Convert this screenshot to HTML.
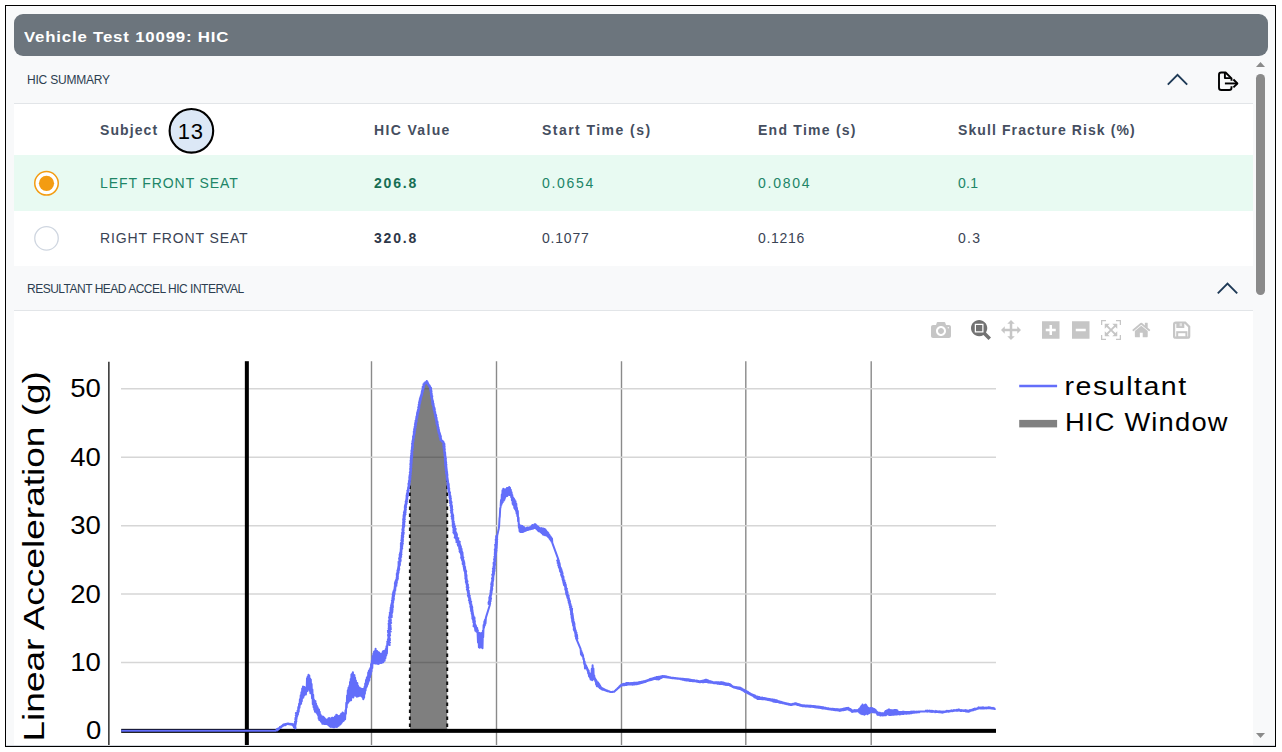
<!DOCTYPE html>
<html><head><meta charset="utf-8">
<style>
html,body{margin:0;padding:0;background:#fff;width:1282px;height:752px;overflow:hidden;font-family:"Liberation Sans",sans-serif;position:relative;}
.a{position:absolute;}
#frame{position:absolute;left:5px;top:5px;width:1269px;height:740px;border:1px solid #000;background:#f8f9fa;}
#hdr{position:absolute;left:14px;top:14px;width:1254px;height:42px;background:#6c757d;border-radius:9px;}
.t{position:absolute;white-space:nowrap;line-height:1;}
.sectitle{font-size:12px;color:#2c3e50;}
.sep{position:absolute;left:14px;width:1239px;height:1px;background:#e2e5e8;}
.th{font-size:14px;font-weight:bold;color:#454e60;letter-spacing:0.6px;}
.td{font-size:14px;color:#3a4354;letter-spacing:0.8px;}
</style></head>
<body>
<div id="frame"></div>
<div id="hdr"></div>
<div class="t" style="left:24px;top:29px;color:#fff;font-weight:bold;font-size:15px;letter-spacing:0.73px;transform:scaleX(1.12);transform-origin:0 0;">Vehicle Test 10099: HIC</div>
<div class="t sectitle" style="left:27px;top:74px;letter-spacing:-0.2px;">HIC SUMMARY</div>
<div class="sep" style="top:103px;"></div>
<div class="a" style="left:14px;top:104px;width:1239px;height:51px;background:#fff;"></div>
<div class="a" style="left:14px;top:155px;width:1239px;height:56px;background:#e8faf2;"></div>
<div class="a" style="left:14px;top:211px;width:1239px;height:55px;background:#fff;"></div>
<div class="t sectitle" style="left:27px;top:283px;letter-spacing:-0.5px;">RESULTANT HEAD ACCEL HIC INTERVAL</div>
<div class="sep" style="top:310px;"></div>
<div class="a" style="left:14px;top:311px;width:1239px;height:434px;background:#fff;"></div>
<div class="a" style="left:6px;top:745px;width:1269px;height:1px;background:#d3d8de;"></div>
<div class="t th" style="left:100px;top:123px;letter-spacing:1.1px;">Subject</div>
<div class="t th" style="left:374px;top:123px;letter-spacing:1.35px;">HIC Value</div>
<div class="t th" style="left:542px;top:123px;letter-spacing:1.45px;">Start Time (s)</div>
<div class="t th" style="left:758px;top:123px;letter-spacing:1.25px;">End Time (s)</div>
<div class="t th" style="left:958px;top:123px;letter-spacing:1.1px;">Skull Fracture Risk (%)</div>
<svg class="a" style="left:160px;top:100px;" width="64" height="64" viewBox="160 100 64 64"><circle cx="191.4" cy="130.8" r="21.8" fill="#dce8f6" stroke="#000" stroke-width="2.1"/></svg>
<div class="t" style="left:177.8px;top:120.5px;font-size:22px;color:#000;letter-spacing:0.6px;">13</div>
<div class="t td" style="left:100px;top:176px;color:#208567;letter-spacing:0.9px;">LEFT FRONT SEAT</div>
<div class="t td" style="left:374px;top:176px;color:#166e54;font-weight:bold;letter-spacing:1.8px;">206.8</div>
<div class="t td" style="left:542px;top:176px;color:#208567;letter-spacing:1.7px;">0.0654</div>
<div class="t td" style="left:758px;top:176px;color:#208567;letter-spacing:1.75px;">0.0804</div>
<div class="t td" style="left:958px;top:176px;color:#208567;letter-spacing:0.3px;">0.1</div>
<div class="t td" style="left:100px;top:231px;letter-spacing:0.87px;">RIGHT FRONT SEAT</div>
<div class="t td" style="left:374px;top:231px;color:#2d3748;font-weight:bold;letter-spacing:1.8px;">320.8</div>
<div class="t td" style="left:542px;top:231px;letter-spacing:0.8px;">0.1077</div>
<div class="t td" style="left:758px;top:231px;letter-spacing:0.7px;">0.1216</div>
<div class="t td" style="left:958px;top:231px;letter-spacing:1.3px;">0.3</div>
<svg class="a" style="left:0;top:0;" width="1282" height="752" viewBox="0 0 1282 752">
<polyline points="1167.8,84.6 1177.5,74.9 1187.2,84.6" fill="none" stroke="#1e3a56" stroke-width="1.9"/>
<polyline points="1217.8,293.3 1227.5,283.6 1237.2,293.3" fill="none" stroke="#1e3a56" stroke-width="1.9"/>
<g fill="none" stroke="#000" stroke-width="1.9" stroke-linejoin="round">
<path d="M1231.5,80.8 V78.4 L1225.6,72.5 H1221.3 Q1219,72.5 1219,74.8 V87.7 Q1219,90 1221.3,90 H1229.2 Q1231.5,90 1231.5,87.7 V86.2"/>
<path d="M1224.9,72.8 V78.1 H1230.8"/>
<path d="M1224.9,83.45 H1237.2"/>
<path d="M1233.4,79.5 L1237.4,83.45 L1233.4,87.4"/>
</g>
<circle cx="46.5" cy="183.3" r="11.75" fill="#fff" stroke="#f39c12" stroke-width="1.5"/>
<circle cx="46.5" cy="183.3" r="7.6" fill="#f39c12"/>
<circle cx="46.5" cy="238.3" r="11.75" fill="#fff" stroke="#cfd6e0" stroke-width="1.3"/>
<!-- scrollbar -->
<path d="M1256,67 L1260.5,62 L1265,67 Z" fill="#8a8a8a"/>
<path d="M1256,733 L1260.5,738 L1265,733 Z" fill="#8a8a8a"/>
<rect x="1256" y="74" width="9" height="221" rx="4.5" fill="#8a8a8a"/>
</svg>
<svg class="a" style="left:931px;top:319.8px;" width="20" height="20" viewBox="0 0 1000 1000"><path fill="#c6c6c6" fill-rule="evenodd" transform="matrix(1 0 0 -1 0 850)" d="m500 450c-83 0-150-67-150-150 0-83 67-150 150-150 83 0 150 67 150 150 0 83-67 150-150 150z m400 150h-120c-16 0-34 13-39 29l-31 93c-6 15-23 28-40 28h-340c-16 0-34-13-39-28l-31-94c-6-15-23-28-40-28h-120c-55 0-100-45-100-100v-450c0-55 45-100 100-100h800c55 0 100 45 100 100v450c0 55-45 100-100 100z m-400-550c-138 0-250 112-250 250 0 138 112 250 250 250 138 0 250-112 250-250 0-138-112-250-250-250z m365 380c-19 0-35 16-35 35 0 19 16 35 35 35 19 0 35-16 35-35 0-19-16-35-35-35z"/></svg>
<svg class="a" style="left:971.2px;top:320px;" width="20" height="20" viewBox="0 0 1000 1000"><path fill="#727272" fill-rule="evenodd" transform="matrix(1 0 0 -1 0 850)" d="m1000-25l-250 251c40 63 63 138 63 218 0 224-182 406-407 406-224 0-406-182-406-406s183-406 407-406c80 0 155 22 218 62l250-250 125 125z m-812 250l0 438 437 0 0-438-437 0z m62 375l313 0 0-312-313 0 0 312z"/></svg>
<svg class="a" style="left:1001px;top:320px;" width="20" height="20" viewBox="0 0 1000 1000"><path fill="#c6c6c6" transform="matrix(1 0 0 -1 0 850)" d="m1000 350l-187 188 0-125-250 0 0 250 125 0-188 187-187-187 125 0 0-250-250 0 0 125-188-188 186-187 0 125 252 0 0-250-125 0 187-188 188 188-125 0 0 250 250 0 0-126 187 188z"/></svg>
<svg class="a" style="left:1042.3px;top:320px;" width="17.5" height="20" viewBox="0 0 875 1000"><path fill="#c6c6c6" fill-rule="evenodd" transform="matrix(1 0 0 -1 0 850)" d="m1 787l0-875 875 0 0 875-875 0z m687-500l-187 0 0-187-125 0 0 187-188 0 0 125 188 0 0 187 125 0 0-187 187 0 0-125z"/></svg>
<svg class="a" style="left:1072.4px;top:320px;" width="17.5" height="20" viewBox="0 0 875 1000"><path fill="#c6c6c6" fill-rule="evenodd" transform="matrix(1 0 0 -1 0 850)" d="m0 788l0-876 875 0 0 876-875 0z m688-500l-500 0 0 125 500 0 0-125z"/></svg>
<svg class="a" style="left:1101.2px;top:320px;" width="20" height="20" viewBox="0 0 1000 1000"><path fill="#c6c6c6" transform="matrix(1 0 0 -1 0 850)" d="m250 850l-187 0-63 0 0-62 0-188 63 0 0 188 187 0 0 62z m688 0l-188 0 0-62 188 0 0-188 62 0 0 188 0 62-62 0z m-875-938l0 188-63 0 0-188 0-62 63 0 187 0 0 62-187 0z m875 188l0-188-188 0 0-62 188 0 62 0 0 62 0 188-62 0z m-125 188l-1 0-93-94-156 156 156 156 92-93 2 0 0 250-250 0 0-2 93-92-156-156-156 156 94 92 0 2-250 0 0-250 0 0 93 93 157-156-157-156-93 94 0 0 0-250 250 0 0 0-94 93 156 157 156-157-93-93 0 0 250 0 0 250z"/></svg>
<svg class="a" style="left:1132px;top:320px;" width="18.57" height="20" viewBox="0 0 928.6 1000"><path fill="#c6c6c6" transform="matrix(1 0 0 -1 0 850)" d="m786 296v-267q0-15-11-26t-25-10h-214v214h-143v-214h-214q-15 0-25 10t-11 26v267q0 1 0 2t0 2l321 264 321-264q1-1 1-4z m124 39l-34-41q-5-5-12-6h-2q-7 0-12 3l-386 322-386-322q-7-4-13-4-7 2-12 7l-35 41q-4 5-3 13t6 12l401 334q18 15 42 15t43-15l136-114v109q0 8 5 13t13 5h107q8 0 13-5t5-13v-227l122-102q5-5 6-12t-4-13z"/></svg>
<svg class="a" style="left:0;top:0;" width="1282" height="752" viewBox="0 0 1282 752">
<path d="M1175.8,322.7 H1185.2 L1189.2,326.7 V336.2 Q1189.2,337.7 1187.7,337.7 H1175.6 Q1174.1,337.7 1174.1,336.2 V324.4 Q1174.1,322.7 1175.8,322.7 Z" fill="none" stroke="#c6c6c6" stroke-width="2.2"/>
<rect x="1176.3" y="322.6" width="8" height="5.4" fill="#c6c6c6"/>
<rect x="1179.6" y="323.2" width="2.4" height="3" fill="#e4e4e4"/>
<rect x="1177.2" y="332.2" width="9.2" height="5.2" fill="none" stroke="#c6c6c6" stroke-width="2"/>
</svg>

<svg class="a" style="left:0;top:0;" width="1282" height="752" viewBox="0 0 1282 752">
<defs><clipPath id="cp"><rect x="14" y="311" width="1239" height="434"/></clipPath></defs>
<g clip-path="url(#cp)">
<g stroke="#8a8a8a" stroke-width="1.4">
<line x1="371.5" y1="361.2" x2="371.5" y2="745"/>
<line x1="496.5" y1="361.2" x2="496.5" y2="745"/>
<line x1="621.5" y1="361.2" x2="621.5" y2="745"/>
<line x1="745.8" y1="361.2" x2="745.8" y2="745"/>
<line x1="871.2" y1="361.2" x2="871.2" y2="745"/>
</g>
<g stroke="#d6d6d6" stroke-width="1.5">
<line x1="121" y1="662.45" x2="996" y2="662.45"/>
<line x1="121" y1="594.05" x2="996" y2="594.05"/>
<line x1="121" y1="525.65" x2="996" y2="525.65"/>
<line x1="121" y1="457.25" x2="996" y2="457.25"/>
<line x1="121" y1="388.85" x2="996" y2="388.85"/>
</g>
<line x1="108.85" y1="361.7" x2="108.85" y2="745" stroke="#3a3a3a" stroke-width="1.6"/>
<rect x="244.85" y="361.2" width="4" height="384" fill="#000"/>
<rect x="121.2" y="728.85" width="874.8" height="4" fill="#000"/>
<path d="M409.9,730.9 409.9,478.6 412.6,443.1 415.9,421.9 419.9,401.9 423.9,384.6 426.3,381.3 428.5,384.6 430.3,387.3 432.5,401.9 435.2,413.9 438.5,429.8 441.2,440.5 443.6,442.5 447.2,478.6 447.2,730.9Z" fill="rgba(0,0,0,0.5)" stroke="none"/>
<line x1="409.9" y1="478.6" x2="409.9" y2="730.8" stroke="#111" stroke-width="2" stroke-dasharray="3.5,3.5"/>
<line x1="447.2" y1="478.6" x2="447.2" y2="730.8" stroke="#111" stroke-width="2" stroke-dasharray="3.5,3.5"/>
<path d="M121.2,730.8 121.8,730.8 122.4,730.8 123.0,730.8 123.6,730.8 124.2,730.8 124.8,730.8 125.4,730.8 126.0,730.8 126.6,730.8 127.2,730.8 127.8,730.8 128.4,730.8 129.0,730.8 129.6,730.8 130.2,730.8 130.8,730.8 131.4,730.8 132.0,730.8 132.6,730.8 133.2,730.8 133.8,730.8 134.4,730.8 135.0,730.8 135.6,730.8 136.2,730.8 136.8,730.8 137.4,730.8 138.0,730.8 138.6,730.8 139.2,730.8 139.8,730.8 140.4,730.8 141.0,730.8 141.6,730.8 142.2,730.8 142.8,730.8 143.4,730.8 144.0,730.8 144.6,730.8 145.2,730.8 145.8,730.8 146.4,730.8 147.0,730.8 147.6,730.8 148.2,730.8 148.8,730.8 149.4,730.8 150.0,730.8 150.6,730.8 151.2,730.8 151.8,730.8 152.4,730.8 153.0,730.8 153.6,730.8 154.2,730.8 154.8,730.8 155.4,730.8 156.0,730.8 156.6,730.8 157.2,730.8 157.8,730.8 158.4,730.8 159.0,730.8 159.6,730.8 160.2,730.8 160.8,730.8 161.4,730.8 162.0,730.8 162.6,730.8 163.2,730.8 163.8,730.8 164.4,730.8 165.0,730.8 165.6,730.8 166.2,730.8 166.8,730.8 167.4,730.8 168.0,730.8 168.6,730.8 169.2,730.8 169.8,730.8 170.4,730.8 171.0,730.8 171.6,730.8 172.2,730.8 172.8,730.8 173.4,730.8 174.0,730.8 174.6,730.8 175.2,730.8 175.8,730.8 176.4,730.8 177.0,730.8 177.6,730.8 178.2,730.8 178.8,730.8 179.4,730.8 180.0,730.8 180.6,730.8 181.2,730.8 181.8,730.8 182.4,730.8 183.0,730.8 183.6,730.8 184.2,730.8 184.8,730.8 185.4,730.8 186.0,730.8 186.6,730.8 187.2,730.8 187.8,730.8 188.4,730.8 189.0,730.8 189.6,730.8 190.2,730.8 190.8,730.8 191.4,730.8 192.0,730.8 192.6,730.8 193.2,730.8 193.8,730.8 194.4,730.8 195.0,730.8 195.6,730.8 196.2,730.8 196.8,730.8 197.4,730.8 198.0,730.8 198.6,730.8 199.2,730.8 199.8,730.8 200.4,730.8 201.0,730.8 201.6,730.8 202.2,730.8 202.8,730.8 203.4,730.8 204.0,730.8 204.6,730.8 205.2,730.8 205.8,730.8 206.4,730.8 207.0,730.8 207.6,730.8 208.2,730.8 208.8,730.8 209.4,730.8 210.0,730.8 210.6,730.8 211.2,730.8 211.8,730.8 212.4,730.8 213.0,730.8 213.6,730.8 214.2,730.8 214.8,730.8 215.4,730.8 216.0,730.8 216.6,730.8 217.2,730.8 217.8,730.8 218.4,730.8 219.0,730.8 219.6,730.8 220.2,730.8 220.8,730.8 221.4,730.8 222.0,730.8 222.6,730.8 223.2,730.8 223.8,730.8 224.4,730.8 225.0,730.8 225.6,730.8 226.2,730.8 226.8,730.8 227.4,730.8 228.0,730.8 228.6,730.8 229.2,730.8 229.8,730.8 230.4,730.8 231.0,730.8 231.6,730.8 232.2,730.8 232.8,730.8 233.4,730.8 234.0,730.8 234.6,730.8 235.2,730.8 235.8,730.8 236.4,730.8 237.0,730.8 237.6,730.8 238.2,730.8 238.8,730.8 239.4,730.8 240.0,730.8 240.6,730.8 241.2,730.8 241.8,730.8 242.4,730.8 243.0,730.8 243.6,730.8 244.2,730.8 244.8,730.8 245.4,730.8 246.0,730.8 246.6,730.8 247.2,730.8 247.8,730.8 248.4,730.8 249.0,730.8 249.6,730.8 250.2,730.8 250.8,730.8 251.4,730.8 252.0,730.8 252.6,730.8 253.2,730.8 253.8,730.8 254.4,730.8 255.0,730.8 255.6,730.8 256.2,730.8 256.8,730.8 257.4,730.8 258.0,730.8 258.6,730.8 259.2,730.8 259.8,730.8 260.4,730.8 261.0,730.8 261.6,730.8 262.2,730.8 262.8,730.8 263.4,730.8 264.0,730.8 264.6,730.8 265.2,730.8 265.8,730.8 266.4,730.8 267.0,730.8 267.6,730.8 268.2,730.8 268.8,730.8 269.4,730.8 270.0,730.8 270.6,730.8 271.2,730.8 271.8,730.8 272.4,730.8 273.0,730.8 273.6,730.8 274.2,730.8 274.8,730.8 275.4,730.8 276.0,730.8 276.2,730.1 277.2,730.4 277.0,729.1 278.2,729.6 278.1,728.5 279.1,728.9 279.1,727.9 280.1,728.1 279.9,727.0 281.1,727.5 281.0,726.4 281.9,726.5 282.0,725.7 282.8,726.1 283.0,724.8 283.9,725.3 284.1,724.2 285.2,725.3 285.4,723.9 286.3,724.7 286.6,723.7 287.3,724.0 288.0,723.4 288.6,724.2 289.3,723.7 289.9,724.4 290.6,723.9 291.2,724.6 291.9,723.8 292.5,725.0 293.6,724.2 292.9,725.2 294.1,725.4 293.4,726.3 294.5,726.5 294.0,727.4 295.2,727.6 295.5,728.5 294.3,727.7 295.5,727.3 294.7,726.5 295.4,726.0 294.9,725.3 295.5,724.8 294.8,724.1 295.9,723.6 294.9,722.9 296.0,722.4 295.0,721.6 296.4,721.2 295.6,720.5 296.3,719.9 295.3,719.2 296.6,718.7 295.4,718.0 296.7,717.5 296.1,716.8 297.1,716.3 295.8,715.5 297.0,715.1 296.3,714.4 297.3,713.9 295.9,713.1 297.7,712.7 297.5,710.8 297.9,714.6 298.3,707.1 298.7,711.8 299.1,703.8 299.5,707.7 299.9,699.3 300.3,704.5 300.7,695.2 301.1,703.8 301.4,692.2 301.8,701.3 302.2,688.5 302.6,697.9 303.0,686.5 303.4,697.4 303.7,686.7 304.1,695.4 304.5,687.1 305.0,694.6 305.4,690.5 305.9,694.4 306.3,687.6 306.6,691.5 307.0,678.3 307.4,691.1 307.7,676.5 308.1,689.1 308.5,674.7 308.9,688.9 309.3,675.6 309.6,690.8 310.0,678.4 310.4,693.3 310.8,679.6 311.2,693.3 311.6,684.0 312.0,698.2 312.4,689.5 312.8,704.1 313.2,694.8 313.6,707.2 313.9,699.4 314.3,709.6 314.7,700.7 315.0,711.7 315.4,701.0 315.7,711.2 316.1,703.8 316.5,712.6 316.8,705.8 317.2,713.6 317.6,707.2 317.9,714.9 318.3,709.0 318.7,718.7 319.0,709.5 319.4,720.1 319.7,711.7 320.1,719.9 320.5,714.5 320.8,721.4 321.2,716.6 321.6,722.0 321.9,716.2 322.3,723.7 322.6,717.0 323.0,723.4 323.3,716.8 323.7,723.8 324.0,717.4 324.4,724.0 324.7,718.3 325.1,724.0 325.4,719.0 325.8,724.0 326.1,719.4 326.5,723.6 326.9,719.8 327.2,724.2 327.6,719.8 328.0,724.7 328.3,718.5 328.7,725.3 329.1,718.1 329.4,726.0 329.8,719.1 330.2,726.6 330.5,718.9 330.9,727.0 331.3,718.0 331.6,726.1 332.0,717.8 332.4,726.8 332.7,717.8 333.1,727.2 333.5,718.7 333.8,726.4 334.2,717.8 334.5,727.3 334.9,716.5 335.2,726.7 335.6,716.3 335.9,726.2 336.3,714.8 336.6,727.0 337.0,714.9 337.3,726.7 337.7,716.2 338.0,726.0 338.4,716.0 338.7,725.8 339.1,716.1 339.4,724.7 339.8,715.8 340.2,724.4 340.5,715.1 340.9,723.8 341.2,713.7 341.6,722.8 341.9,714.4 342.3,721.8 342.6,712.6 343.0,721.1 343.3,712.9 343.7,720.7 344.0,714.2 344.4,719.7 344.7,713.6 345.1,719.3 345.5,710.3 345.9,713.8 346.3,702.7 346.7,707.5 347.1,695.4 347.5,703.4 347.8,690.3 348.2,702.4 348.5,687.8 348.9,701.5 349.3,685.9 349.6,700.8 350.0,682.0 350.4,700.3 350.7,678.9 351.1,700.3 351.4,674.5 351.8,697.5 352.2,673.4 352.5,697.3 352.9,672.2 353.3,697.5 353.7,674.8 354.0,695.4 354.4,674.9 354.8,694.3 355.1,677.7 355.5,695.7 355.9,680.5 356.2,695.5 356.6,683.2 356.9,696.7 357.3,683.1 357.7,696.2 358.0,685.8 358.4,696.2 358.8,687.5 359.1,695.1 359.5,687.4 359.8,695.8 360.2,688.3 360.5,695.2 360.9,688.6 361.2,695.8 361.6,689.4 361.9,696.4 362.3,689.0 362.6,697.4 363.0,689.1 363.3,699.3 363.7,689.6 364.1,697.6 364.5,686.9 364.9,693.8 365.2,683.5 365.6,690.5 366.0,679.9 366.4,687.4 366.8,677.7 367.1,686.0 367.5,676.4 367.9,684.0 368.2,672.6 368.6,681.8 368.9,670.7 369.3,680.2 369.7,669.2 370.0,677.1 370.4,667.9 370.8,674.5 371.1,663.9 371.5,671.5 371.9,660.4 372.3,668.1 372.6,656.1 373.0,663.4 373.4,653.6 373.8,663.1 374.1,651.4 374.5,663.2 374.9,651.1 375.3,663.4 375.6,648.7 376.0,663.3 376.4,651.2 376.8,663.6 377.1,651.1 377.5,663.8 377.8,651.7 378.2,664.0 378.5,652.3 378.9,663.8 379.2,652.6 379.6,662.6 379.9,653.4 380.3,662.7 380.6,653.8 381.0,663.1 381.4,653.9 381.7,662.1 382.1,653.2 382.5,662.4 382.8,651.6 383.2,662.2 383.5,650.9 383.9,660.7 384.3,651.7 384.6,660.7 385.0,650.6 385.4,658.1 385.8,649.0 386.2,655.4 386.5,646.2 386.9,653.5 387.3,643.2 389.7,645.1 388.1,644.4 389.2,643.8 387.4,643.1 390.1,642.6 387.2,641.8 389.3,641.4 387.8,640.7 390.0,640.2 387.9,639.4 390.0,638.9 388.3,638.2 389.5,637.7 388.4,637.0 389.5,636.5 388.0,635.7 390.1,635.3 388.1,634.5 389.8,634.0 388.6,633.3 389.9,632.8 388.0,632.1 390.8,631.6 387.9,630.8 389.9,630.3 388.9,629.7 390.9,629.2 388.6,628.4 390.8,627.9 388.8,627.2 390.6,626.7 388.7,626.0 390.6,625.5 388.7,624.7 390.2,624.2 388.6,623.5 391.2,623.0 389.2,622.3 390.8,621.8 388.7,621.0 390.9,620.6 389.4,619.8 390.8,619.4 389.3,618.6 390.8,618.2 389.1,617.3 391.7,617.1 389.5,616.1 391.9,615.9 389.7,615.0 391.6,614.6 389.9,613.8 391.9,613.4 389.8,612.5 392.3,612.3 390.6,611.4 392.5,611.1 390.4,610.2 392.6,609.8 390.5,609.0 392.4,608.6 390.6,607.7 392.9,607.5 391.0,606.6 393.0,606.2 391.1,605.4 392.8,605.0 391.3,604.2 392.7,603.8 391.8,603.0 393.2,602.6 392.2,601.9 393.2,601.4 391.9,600.6 393.6,600.2 392.4,599.4 394.0,599.0 392.3,598.2 393.7,597.8 392.5,597.0 394.0,596.6 392.8,595.8 394.1,595.4 392.7,594.5 394.5,594.2 393.1,593.3 394.8,593.0 393.2,592.1 394.6,591.7 393.7,590.9 395.3,590.6 394.2,589.8 395.3,589.4 394.5,588.6 395.4,588.1 394.6,587.3 395.6,586.9 394.9,586.2 396.4,585.8 394.9,584.9 396.4,584.6 394.9,583.6 396.7,583.4 395.1,582.4 396.9,582.2 395.5,581.3 396.8,580.9 395.9,580.1 397.5,579.8 396.5,578.9 397.9,578.6 396.7,577.7 397.8,577.3 396.9,576.5 398.0,576.1 396.8,575.3 397.9,574.8 396.7,574.0 398.3,573.7 397.2,572.9 398.6,572.5 397.5,571.7 398.6,571.2 397.5,570.4 399.0,570.1 397.9,569.3 399.3,568.9 398.1,568.1 399.0,567.6 398.3,566.9 399.2,566.4 398.5,565.7 399.8,565.2 398.6,564.4 400.1,564.0 398.5,563.2 399.7,562.7 398.5,561.9 400.5,561.6 399.3,560.8 400.7,560.4 399.3,559.6 400.6,559.2 399.1,558.3 400.6,557.9 399.6,557.2 401.2,556.8 399.6,555.9 401.1,555.5 399.6,554.7 401.5,554.4 400.0,553.5 401.2,553.1 400.2,552.3 401.6,551.9 400.7,551.1 401.5,550.7 400.6,549.9 401.7,549.4 400.8,548.7 402.2,548.3 400.9,547.5 402.1,547.0 400.9,546.3 402.3,545.8 400.9,545.1 402.5,544.6 400.8,543.9 402.9,543.5 401.1,542.7 402.5,542.2 401.7,541.5 403.0,541.0 401.3,540.3 403.0,539.8 401.7,539.1 402.8,538.6 401.6,537.9 403.1,537.4 401.8,536.7 403.3,536.2 401.8,535.4 403.1,535.0 402.2,534.3 403.7,533.8 401.9,533.0 403.8,532.6 402.6,531.9 403.3,531.3 402.5,530.7 403.7,530.1 402.4,529.4 403.6,528.9 402.6,528.2 403.7,527.7 403.0,527.0 404.2,526.5 402.8,525.8 404.3,525.3 403.0,524.6 404.3,524.1 403.2,523.4 404.3,522.9 403.0,522.2 404.7,521.7 403.5,521.0 404.3,520.5 403.1,519.8 404.8,519.3 403.3,518.6 404.6,518.1 403.6,517.4 404.8,516.9 403.5,516.1 404.9,515.7 403.7,514.9 405.5,514.5 404.0,513.8 405.3,513.3 403.9,512.5 405.7,512.1 404.3,511.3 405.5,510.9 404.7,510.1 406.0,509.7 404.9,508.9 405.7,508.4 404.8,507.7 406.1,507.2 404.9,506.4 406.1,506.0 405.0,505.2 406.2,504.8 405.6,504.1 406.7,503.6 405.8,502.9 406.7,502.4 405.7,501.6 407.1,501.2 406.1,500.4 406.9,499.9 406.3,499.2 407.4,498.8 406.5,498.0 407.3,497.5 406.5,496.8 407.7,496.3 406.6,495.5 408.0,495.1 406.8,494.3 408.0,493.9 407.0,493.1 408.1,492.7 407.5,491.9 408.3,491.4 407.4,490.7 408.7,490.3 407.9,489.5 408.7,489.0 408.0,488.3 408.9,487.8 408.2,487.1 409.1,486.6 408.5,485.9 409.3,485.4 408.4,484.6 409.5,484.1 408.5,483.4 409.7,482.9 409.0,482.2 410.0,481.7 408.9,480.9 410.0,480.5 409.5,479.8 410.3,479.3 409.4,478.6 410.4,478.0 409.3,477.3 410.6,476.8 409.5,476.1 410.4,475.6 409.7,475.0 410.8,474.4 410.0,473.8 410.6,473.2 409.8,472.5 411.1,472.0 410.2,471.4 411.0,470.8 410.3,470.2 411.2,469.6 410.1,468.9 411.0,468.4 410.4,467.7 411.4,467.2 410.4,466.5 411.4,466.0 410.5,465.3 411.3,464.8 410.3,464.1 411.6,463.6 410.6,462.9 411.6,462.4 410.6,461.7 411.8,461.2 410.6,460.5 411.7,460.0 410.8,459.3 411.9,458.8 410.8,458.1 412.1,457.6 410.9,456.9 412.2,456.4 411.0,455.7 412.2,455.2 411.3,454.5 412.3,454.0 411.2,453.3 412.3,452.8 411.5,452.1 412.2,451.5 411.4,450.9 412.7,450.4 411.7,449.7 412.4,449.1 411.9,448.5 412.7,447.9 411.9,447.3 413.0,446.8 412.1,446.1 412.8,445.5 412.2,444.9 413.0,444.3 412.0,443.7 412.9,443.1 412.5,442.5 413.2,442.0 412.4,441.2 413.6,440.8 412.8,440.0 413.4,439.5 413.0,438.8 413.7,438.3 413.1,437.6 414.1,437.1 413.1,436.4 414.0,435.9 413.5,435.2 414.3,434.7 413.7,434.0 414.7,433.5 413.8,432.7 414.8,432.3 413.8,431.5 414.9,431.1 414.2,430.3 415.3,429.9 414.1,429.1 415.2,428.6 414.5,427.9 415.7,427.5 414.7,426.7 415.6,426.2 415.1,425.5 416.1,425.0 414.9,424.2 416.0,423.8 415.2,423.0 416.3,422.6 415.6,421.8 416.7,421.4 415.6,420.6 416.6,420.1 416.2,419.4 416.9,419.0 416.2,418.2 417.3,417.8 416.3,416.9 417.5,416.5 416.8,415.8 417.5,415.3 417.0,414.6 417.8,414.1 417.0,413.3 418.2,412.9 417.3,412.1 418.6,411.7 417.7,410.9 418.7,410.5 418.0,409.7 419.0,409.3 418.4,408.5 419.3,408.1 418.2,407.2 419.5,406.9 418.8,406.1 419.5,405.6 418.7,404.8 419.7,404.4 419.1,403.6 420.1,403.2 419.1,402.4 420.4,402.0 419.4,401.2 420.5,400.8 419.7,400.0 420.9,399.6 419.9,398.8 421.0,398.4 420.3,397.6 421.3,397.2 420.7,396.4 421.7,396.0 421.1,395.3 422.2,394.9 421.3,394.1 422.2,393.6 421.7,392.9 422.5,392.4 421.8,391.7 422.9,391.3 422.1,390.5 423.2,390.1 422.5,389.3 423.3,388.9 422.6,388.1 423.9,387.7 422.7,386.8 424.0,386.5 423.4,385.7 424.1,385.3 423.4,384.3 424.6,384.2 424.3,383.2 425.5,383.2 425.3,382.3 426.5,382.3 426.8,381.0 426.4,382.0 427.5,382.1 427.1,383.1 428.1,383.3 427.7,384.3 428.8,384.4 428.5,385.3 429.6,385.5 429.1,386.5 430.2,386.6 430.0,387.3 431.0,387.8 430.1,388.6 431.2,389.0 430.2,389.8 431.3,390.3 430.5,391.0 431.5,391.5 430.8,392.2 431.4,392.7 431.0,393.4 431.8,393.9 430.8,394.7 431.8,395.2 431.2,395.9 432.3,396.3 431.3,397.1 432.1,397.6 431.6,398.3 432.3,398.8 431.9,399.5 432.6,400.0 432.1,400.7 433.1,401.2 432.1,402.0 433.1,402.4 432.3,403.2 433.5,403.6 432.4,404.4 433.6,404.8 432.9,405.6 433.8,406.0 433.4,406.7 434.1,407.2 433.3,408.0 434.7,408.3 433.5,409.2 434.8,409.6 433.9,410.4 434.7,410.9 434.3,411.6 435.2,412.0 434.4,412.8 435.3,413.2 434.8,414.0 435.8,414.4 434.9,415.2 436.2,415.5 435.2,416.4 436.1,416.8 435.4,417.6 436.7,417.9 435.7,418.7 436.7,419.1 436.0,419.9 436.8,420.3 436.1,421.1 437.5,421.4 436.5,422.2 437.6,422.6 436.5,423.4 437.6,423.8 436.7,424.6 438.0,425.0 437.3,425.7 438.0,426.2 437.6,426.9 438.5,427.3 437.6,428.1 438.6,428.5 437.7,429.3 438.9,429.7 438.2,430.5 439.1,430.9 438.3,431.8 439.4,432.1 438.6,432.9 439.9,433.3 439.1,434.1 440.2,434.4 439.5,435.2 440.6,435.6 439.5,436.5 440.9,436.8 440.0,437.7 440.9,438.1 440.2,438.9 441.2,439.2 440.4,440.1 441.4,440.2 441.4,441.3 442.6,440.8 442.4,441.9 443.4,441.7 443.4,442.5 443.9,443.1 443.4,443.7 444.5,444.2 443.2,445.0 444.4,445.5 443.6,446.1 444.6,446.7 443.5,447.4 444.5,447.9 443.7,448.6 444.9,449.1 444.1,449.7 444.7,450.3 444.0,451.0 444.8,451.5 444.2,452.2 445.1,452.7 444.4,453.4 445.2,453.9 444.5,454.6 445.3,455.1 444.5,455.8 445.5,456.3 444.8,457.0 445.6,457.5 444.9,458.2 445.9,458.7 444.8,459.4 445.8,459.9 445.0,460.6 446.0,461.1 445.0,461.8 446.2,462.3 445.1,463.0 446.1,463.5 445.1,464.2 446.4,464.7 445.3,465.4 446.3,465.9 445.6,466.6 446.5,467.1 445.5,467.8 446.6,468.3 445.8,469.0 446.7,469.5 445.7,470.2 446.8,470.7 446.2,471.4 447.1,471.9 446.0,472.6 447.2,473.1 446.2,473.8 447.4,474.3 446.5,475.0 447.4,475.5 446.7,476.2 447.3,476.8 446.7,477.4 447.6,478.0 446.8,478.7 447.5,479.2 446.8,479.9 447.9,480.4 447.3,481.1 448.0,481.6 447.4,482.3 448.2,482.8 447.7,483.5 448.7,484.0 447.5,484.8 448.8,485.2 447.7,486.0 448.8,486.4 447.9,487.2 448.9,487.7 448.1,488.4 449.3,488.9 448.3,489.7 449.2,490.1 448.5,490.9 449.4,491.3 448.8,492.1 450.0,492.5 449.3,493.2 449.9,493.8 449.3,494.5 450.1,495.0 449.6,495.7 450.6,496.1 449.4,497.0 450.6,497.4 449.8,498.1 450.9,498.6 450.1,499.3 450.8,499.9 449.8,500.6 451.1,501.1 450.2,501.8 451.6,502.3 450.0,503.0 451.4,503.5 450.6,504.2 451.5,504.7 450.3,505.5 452.0,505.9 450.9,506.7 452.1,507.1 450.9,507.9 452.0,508.4 451.2,509.1 452.4,509.6 450.8,510.4 452.2,510.8 451.2,511.6 452.3,512.1 451.1,512.8 452.4,513.3 451.8,514.0 452.9,514.5 451.8,515.2 453.2,515.7 451.5,516.5 453.2,516.9 452.2,517.7 453.4,518.1 451.8,518.9 453.3,519.4 452.5,520.1 453.3,520.6 452.5,521.3 453.8,521.8 452.7,522.6 453.7,523.0 452.8,523.8 454.3,524.1 452.6,525.1 454.4,525.4 452.9,526.3 455.1,526.5 453.1,527.5 454.8,527.8 453.6,528.7 455.8,528.9 453.4,530.0 455.5,530.2 453.6,531.2 455.5,531.4 453.4,532.5 456.2,532.6 454.1,533.6 456.7,533.7 454.9,534.7 457.1,534.9 454.9,536.2 456.9,536.1 454.7,537.6 457.1,537.3 455.8,538.5 458.4,538.2 456.3,539.6 458.2,539.6 456.4,540.9 458.5,540.8 456.5,542.3 459.8,541.7 458.0,543.1 459.6,543.1 457.7,544.5 460.0,544.3 458.0,545.7 460.5,545.5 459.2,546.5 460.9,546.8 459.0,547.8 461.0,548.0 459.3,549.0 461.7,549.1 459.7,550.1 461.6,550.3 459.6,551.4 462.0,551.5 460.2,552.5 462.5,552.6 460.8,553.6 462.6,553.8 461.1,554.8 462.7,555.0 461.3,556.0 462.8,556.3 461.1,557.3 463.4,557.4 461.4,558.4 463.1,558.7 461.9,559.6 463.4,559.8 462.2,560.7 463.9,561.0 462.9,561.8 464.2,562.1 462.6,563.1 464.4,563.3 462.8,564.3 464.4,564.6 463.6,565.4 464.5,565.8 463.6,566.6 465.1,566.9 463.9,567.8 465.2,568.1 464.0,569.0 465.3,569.3 464.2,570.1 465.9,570.5 464.6,571.3 466.2,571.7 465.0,572.5 465.9,573.0 465.1,573.7 466.0,574.2 465.2,574.9 466.6,575.3 465.3,576.1 466.5,576.6 465.4,577.3 466.5,577.8 465.4,578.6 466.7,579.0 465.9,579.7 466.9,580.2 465.8,581.0 467.5,581.3 465.9,582.2 467.2,582.6 466.3,583.3 467.5,583.8 466.6,584.5 468.1,584.9 466.9,585.7 467.9,586.2 466.6,587.0 468.5,587.4 467.2,588.1 468.2,588.6 466.9,589.4 468.1,589.8 467.5,590.6 468.9,590.9 467.8,591.8 468.8,592.2 467.9,593.0 469.1,593.4 468.3,594.2 469.1,594.7 467.9,595.5 469.8,595.8 468.3,596.7 469.7,597.0 468.9,597.8 470.2,598.2 469.2,599.0 470.4,599.4 468.9,600.3 470.5,600.6 469.6,601.5 471.2,601.8 469.6,602.7 470.8,603.1 470.0,603.9 471.4,604.2 470.5,605.0 471.5,605.5 470.3,606.3 472.1,606.6 470.6,607.5 472.3,607.8 470.9,608.7 472.2,609.1 470.9,610.0 472.5,610.3 471.2,611.2 472.6,611.5 471.7,612.4 472.8,612.8 471.7,613.6 473.0,614.0 472.2,614.8 473.3,615.2 472.2,616.1 473.7,616.4 472.4,617.3 474.5,617.5 472.4,618.5 474.6,618.8 473.0,619.7 474.5,620.1 473.3,620.9 475.0,621.2 473.3,622.2 474.8,622.5 473.8,623.3 475.0,623.8 473.8,624.6 475.4,624.8 473.5,626.1 476.1,625.9 474.5,627.1 476.2,627.1 475.0,628.2 477.2,628.1 475.2,629.4 477.4,629.3 475.3,630.7 477.9,630.4 476.4,631.6 477.5,631.0 478.0,642.5 478.5,632.5 478.9,647.3 479.2,632.7 479.6,647.7 480.0,633.2 480.3,646.6 480.7,633.3 481.0,647.3 481.4,633.0 481.8,647.4 482.1,632.7 482.5,648.2 482.9,630.8 483.2,637.2 483.6,625.1 484.0,627.6 484.4,621.3 484.8,625.5 485.1,619.5 485.5,623.4 485.9,617.6 489.9,604.7 488.6,603.9 490.2,603.5 488.5,602.6 490.1,602.2 488.9,601.4 490.7,601.1 489.4,600.3 490.7,599.8 489.3,599.0 491.1,598.7 489.3,597.8 490.8,597.4 489.7,596.6 490.8,596.1 490.0,595.4 491.2,595.0 490.4,594.2 491.4,593.7 490.4,593.0 491.7,592.5 490.6,591.8 491.6,591.3 490.7,590.5 492.0,590.1 491.1,589.3 492.3,588.9 491.1,588.1 492.0,587.6 491.2,586.9 492.4,586.4 491.5,585.7 492.7,585.2 491.2,584.5 492.8,584.0 491.4,583.3 492.6,582.8 491.7,582.1 492.9,581.6 492.1,580.9 493.1,580.4 492.3,579.7 493.3,579.2 492.0,578.4 493.4,578.0 492.3,577.3 493.4,576.8 492.7,576.1 493.6,575.6 492.2,574.8 493.9,574.4 492.8,573.6 494.1,573.2 493.0,572.4 494.1,572.0 492.8,571.2 494.6,570.8 493.2,570.0 494.5,569.5 492.9,568.7 494.8,568.4 493.3,567.6 494.8,567.1 493.5,566.4 494.8,565.9 493.8,565.2 495.2,564.7 493.5,563.9 495.0,563.5 493.6,562.7 494.9,562.3 494.3,561.6 495.4,561.1 494.3,560.3 495.5,559.8 494.0,559.1 495.4,558.6 494.6,558.0 495.6,557.4 494.4,556.7 495.7,556.2 494.9,555.5 496.0,555.0 494.8,554.3 495.9,553.8 494.8,553.1 496.2,552.6 494.9,551.9 496.3,551.4 494.9,550.7 496.6,550.2 494.8,549.4 496.3,549.0 495.3,548.3 496.8,547.8 495.4,547.1 496.8,546.6 495.2,545.8 496.8,545.3 495.1,544.6 497.0,544.1 495.8,543.4 497.0,542.9 495.7,542.2 497.1,541.7 495.9,541.0 497.0,540.5 495.7,539.8 497.2,539.3 496.1,538.6 497.1,538.1 496.2,537.4 497.2,536.8 496.1,536.2 497.2,535.6 498.7,528.9 499.1,526.1 499.5,518.4 499.8,516.5 500.2,508.4 500.6,506.9 501.0,500.0 501.4,504.7 501.8,494.6 502.1,503.0 502.5,490.2 502.9,501.9 503.3,488.8 503.7,500.6 504.0,489.0 504.4,499.7 504.8,489.9 505.2,497.7 505.6,489.7 505.9,495.9 506.2,488.8 506.6,495.1 506.9,488.1 507.3,496.0 507.6,487.9 508.0,494.7 508.4,487.7 508.8,494.8 509.2,486.9 509.6,495.1 510.0,487.8 510.4,494.6 510.8,489.7 511.2,497.1 511.6,492.2 511.9,500.2 512.3,495.1 512.7,503.9 513.1,497.6 513.5,505.1 513.9,498.4 514.3,507.9 514.7,499.9 515.1,509.3 515.5,501.3 515.9,510.6 516.3,503.7 516.6,513.5 517.0,507.9 517.4,516.3 517.8,510.9 518.1,521.1 518.5,517.5 518.9,527.6 519.2,524.3 519.6,531.1 520.0,525.3 520.4,532.1 520.8,526.2 521.2,532.1 521.6,525.8 522.0,532.0 522.4,526.0 522.7,532.1 523.1,526.7 523.5,531.6 523.9,526.9 524.2,531.2 524.6,527.7 525.0,531.1 525.3,528.2 525.7,530.7 526.1,528.2 526.4,530.4 526.8,527.7 527.1,530.1 527.5,527.6 527.9,529.9 528.2,527.8 528.6,529.7 529.0,527.5 529.3,529.4 529.7,527.2 530.0,529.2 530.4,527.1 530.8,529.2 531.1,526.6 531.5,529.0 531.8,525.6 532.2,528.7 532.5,525.1 532.9,528.7 533.2,525.3 533.6,528.3 533.9,524.9 534.3,527.9 534.6,524.2 535.0,527.2 535.4,524.2 535.7,528.0 536.1,525.1 536.4,528.9 536.8,525.5 537.2,529.6 537.5,526.4 537.9,530.3 538.3,526.8 538.6,531.2 539.0,527.4 539.3,531.1 539.7,528.3 540.1,531.7 540.4,528.5 540.8,532.1 541.1,528.1 541.5,532.9 541.8,528.4 542.2,533.3 542.5,528.6 542.9,534.4 543.2,528.5 543.6,534.7 543.9,528.7 544.3,534.5 544.7,529.0 545.0,535.3 545.4,529.5 545.7,534.9 546.1,530.6 546.5,535.4 546.8,531.6 547.2,536.0 547.6,532.2 547.9,536.8 548.3,533.0 548.6,537.2 549.0,534.4 549.4,538.4 549.7,535.3 550.1,539.4 550.5,536.4 550.9,540.4 551.2,537.4 551.6,541.6 552.0,538.6 552.3,542.9 558.4,559.6 557.2,560.6 558.9,560.7 557.8,561.7 559.0,562.0 557.6,563.0 559.5,563.1 558.4,564.0 559.8,564.2 558.2,565.3 559.9,565.5 558.7,566.4 560.1,566.7 558.9,567.6 560.7,567.8 559.8,568.6 561.2,568.9 559.8,569.9 561.6,570.0 560.0,571.1 561.9,571.2 560.6,572.2 562.3,572.3 561.2,573.3 562.6,573.5 561.1,574.6 562.5,574.8 561.4,575.7 563.0,575.9 561.9,576.8 563.6,577.0 562.4,577.9 563.5,578.3 562.5,579.2 563.7,579.5 562.9,580.3 564.5,580.5 563.2,581.5 564.5,581.8 563.4,582.7 565.2,582.8 563.7,583.9 565.4,584.0 564.0,585.1 565.9,585.1 564.8,586.1 565.9,586.4 565.2,587.2 566.0,587.6 565.3,588.4 566.9,588.7 565.3,589.7 566.7,590.0 566.0,590.8 567.2,591.1 565.9,592.1 567.6,592.3 566.1,593.3 567.5,593.5 566.4,594.5 567.9,594.7 566.9,595.6 568.7,595.8 567.2,596.8 568.5,597.1 567.5,597.9 569.0,598.2 568.2,599.0 569.2,599.4 568.3,600.3 569.7,600.5 568.7,601.4 570.0,601.7 568.7,602.7 570.0,603.0 569.4,603.8 570.7,604.1 569.4,605.0 570.6,605.4 570.0,606.1 571.4,606.4 569.9,607.4 571.3,607.7 570.5,608.5 572.1,608.8 570.4,609.7 572.1,610.1 570.9,610.9 572.0,611.3 571.0,612.1 572.1,612.6 571.1,613.4 572.5,613.8 571.1,614.6 572.7,615.0 571.6,615.8 572.9,616.2 571.5,617.0 573.0,617.4 571.8,618.2 573.2,618.6 572.1,619.4 573.4,619.8 572.1,620.7 573.6,621.1 572.3,621.9 574.1,622.2 572.8,623.1 574.4,623.4 573.0,624.3 574.5,624.6 573.1,625.5 574.5,625.9 573.7,626.7 574.7,627.0 573.8,627.9 575.0,628.2 573.7,629.2 575.2,629.4 574.1,630.3 575.8,630.5 574.7,631.4 575.9,631.7 575.1,632.5 576.5,632.8 575.3,633.7 576.5,634.0 575.5,634.9 577.1,635.1 575.5,636.1 577.2,636.3 576.0,637.3 577.2,637.6 576.1,638.5 577.5,638.7 576.7,639.6 580.6,648.8 581.0,654.5 581.4,651.1 581.8,655.5 582.2,653.0 582.6,656.4 583.0,655.0 583.4,659.2 583.8,658.5 584.2,663.9 584.6,661.6 585.0,668.4 585.4,664.2 585.8,668.0 586.2,665.8 586.6,668.6 587.0,667.4 587.4,670.4 587.8,669.1 588.2,673.3 588.6,670.5 589.0,676.2 589.4,672.9 589.8,677.4 590.2,673.9 590.6,679.4 591.0,673.8 591.4,679.5 591.8,668.7 592.2,680.2 592.6,665.2 593.0,679.2 593.4,668.6 593.8,679.1 594.2,675.4 594.6,679.6 595.0,678.1 595.4,681.4 595.8,679.4 596.1,684.5 596.5,680.7 596.9,686.2 597.3,682.1 597.7,686.2 598.1,682.6 598.5,686.7 598.8,683.4 599.2,687.3 599.5,684.5 599.9,688.1 600.2,685.8 600.6,688.6 600.9,687.0 601.3,689.0 601.6,687.8 602.0,689.5 602.3,688.2 602.7,689.7 603.0,688.6 603.4,689.8 603.8,688.9 604.1,690.0 604.4,689.3 604.8,690.2 605.1,689.7 605.5,690.4 605.9,690.0 606.2,690.7 606.5,690.3 606.9,691.0 607.3,690.6 607.6,691.2 608.0,690.9 608.4,691.3 608.7,691.2 609.1,691.6 609.4,691.4 609.8,691.8 610.2,691.7 610.5,692.0 610.9,691.9 611.3,692.0 611.6,691.9 612.0,692.0 612.3,691.8 612.7,691.9 613.0,691.7 613.4,691.8 613.7,691.7 614.1,691.8 614.5,691.3 614.8,691.1 615.2,690.5 615.5,690.5 615.9,689.8 616.3,689.9 616.6,689.2 617.0,689.3 617.3,688.5 617.7,688.6 618.1,687.7 618.4,688.0 618.8,687.0 619.1,687.4 619.5,686.3 619.9,686.8 620.2,685.6 620.6,686.2 620.9,684.9 621.3,685.6 621.6,684.4 622.0,685.5 622.3,684.3 622.7,685.3 623.0,684.0 623.4,685.2 623.8,683.8 624.1,685.3 624.4,683.9 624.8,685.1 625.1,683.7 625.5,685.1 625.9,683.2 626.2,684.9 626.5,683.1 626.9,684.9 627.3,683.0 627.6,684.6 628.0,683.0 628.3,684.6 628.7,682.9 629.1,684.5 629.4,683.2 629.8,684.4 630.1,683.2 630.5,684.6 630.8,683.1 631.2,684.5 631.6,683.1 631.9,684.4 632.3,683.0 632.6,684.7 633.0,682.9 633.4,684.5 633.7,682.8 634.1,684.4 634.4,682.8 634.8,684.4 635.1,682.8 635.5,684.2 635.9,682.7 636.2,684.2 636.6,682.7 636.9,684.2 637.3,682.8 637.6,684.1 638.0,682.6 638.3,683.9 638.7,682.3 639.0,683.7 639.4,682.1 639.8,683.5 640.1,682.1 640.4,683.3 640.8,681.9 641.1,683.0 641.5,681.8 641.9,682.9 642.2,681.6 642.5,682.7 642.9,681.4 643.2,682.6 643.6,681.2 644.0,682.3 644.3,681.1 644.6,682.1 645.0,681.2 645.4,681.9 645.7,680.8 646.1,681.6 646.5,680.5 646.8,681.2 647.2,680.2 647.6,680.9 647.9,680.0 648.3,680.7 648.7,679.7 649.0,680.3 649.4,679.4 649.8,680.4 650.1,679.1 650.5,680.1 650.8,678.8 651.2,680.0 651.5,678.7 651.9,679.7 652.2,678.5 652.6,679.5 652.9,678.2 653.3,679.2 653.6,678.0 654.0,679.0 654.4,677.8 654.7,679.0 655.1,677.6 655.4,679.0 655.8,677.5 656.2,679.2 656.5,677.1 656.9,679.2 657.3,676.9 657.6,679.3 658.0,676.9 658.3,679.5 658.7,676.7 659.1,679.3 659.4,676.9 659.8,678.7 660.1,676.6 660.5,678.3 660.9,676.4 661.2,677.9 661.6,676.3 662.0,677.6 662.3,676.1 662.7,677.2 663.0,676.1 663.4,676.9 663.8,676.0 664.1,677.0 664.5,676.2 664.8,677.1 665.2,676.4 665.5,677.2 665.9,676.3 666.2,677.3 666.6,676.5 666.9,677.4 667.3,676.8 667.7,677.4 668.0,676.9 668.4,677.5 668.7,677.1 669.1,677.7 669.4,677.3 669.8,677.8 670.1,677.4 670.5,677.9 670.8,677.6 671.2,678.0 671.6,677.7 671.9,678.1 672.3,677.7 672.6,678.2 673.0,677.8 673.3,678.3 673.7,677.9 674.0,678.3 674.4,678.0 674.7,678.4 675.1,678.1 675.5,678.4 675.8,678.1 676.2,678.5 676.5,678.2 676.9,678.7 677.2,678.3 677.6,678.7 677.9,678.4 678.3,678.8 678.6,678.5 679.0,678.8 679.4,678.5 679.7,678.9 680.1,678.6 680.4,679.1 680.8,678.7 681.1,679.3 681.5,678.7 681.8,679.5 682.2,678.8 682.5,679.7 682.9,678.9 683.3,679.7 683.6,678.9 684.0,679.9 684.3,679.0 684.7,680.1 685.0,679.1 685.4,680.3 685.7,679.1 686.1,680.4 686.4,679.1 686.8,680.6 687.2,679.2 687.5,680.6 687.9,679.4 688.2,680.6 688.6,679.3 688.9,680.7 689.3,679.5 689.6,681.0 690.0,679.7 690.3,680.9 690.7,679.8 691.1,681.1 691.4,679.9 691.8,681.0 692.1,680.0 692.5,681.1 692.8,680.2 693.2,681.1 693.5,680.3 693.9,681.1 694.2,680.3 694.6,681.1 695.0,680.5 695.3,681.3 695.7,680.7 696.0,681.4 696.4,680.6 696.8,681.6 697.1,680.8 697.5,681.7 697.9,680.9 698.2,682.0 698.6,681.1 698.9,682.1 699.3,681.4 699.6,682.3 700.0,681.2 700.3,682.2 700.7,681.1 701.0,682.1 701.4,681.0 701.8,682.0 702.1,680.8 702.4,682.2 702.8,680.7 703.1,682.2 703.5,680.5 703.8,682.3 704.2,680.3 704.5,682.0 704.9,680.0 705.2,682.0 705.6,679.8 705.9,682.0 706.3,679.7 706.7,682.0 707.0,680.1 707.4,682.3 707.7,680.2 708.1,682.4 708.4,680.6 708.8,682.5 709.1,681.0 709.5,682.4 709.8,681.2 710.2,682.7 710.6,681.3 710.9,682.6 711.3,681.6 711.6,682.8 712.0,681.8 712.3,682.8 712.7,682.0 713.0,683.0 713.4,682.3 713.7,683.1 714.1,682.5 714.5,683.2 714.8,682.4 715.2,683.3 715.5,682.3 715.9,683.3 716.2,682.2 716.6,683.3 716.9,682.4 717.3,683.6 717.6,682.3 718.0,683.7 718.4,682.3 718.7,683.8 719.1,682.5 719.4,683.9 719.8,682.4 720.1,683.9 720.5,682.3 720.8,683.9 721.2,682.3 721.5,684.0 721.9,682.3 722.3,684.1 722.6,682.6 723.0,684.3 723.3,682.5 723.7,684.4 724.0,682.8 724.4,684.4 724.7,682.9 725.1,684.8 725.4,683.2 725.8,684.9 726.2,683.4 726.5,684.9 726.9,683.5 727.2,685.0 727.6,683.7 727.9,685.1 728.3,683.8 728.6,685.1 729.0,683.9 729.3,685.3 729.7,684.0 730.1,685.7 730.4,684.4 730.8,686.1 731.1,684.9 731.5,686.3 731.8,685.6 732.2,686.8 732.5,686.1 732.9,687.0 733.2,686.5 733.6,687.4 734.0,686.7 734.3,687.5 734.7,687.0 735.0,687.8 735.4,687.1 735.7,687.9 736.1,687.1 736.4,688.2 736.8,687.3 737.2,688.3 737.5,687.4 737.9,688.6 738.2,687.5 738.6,688.8 738.9,687.6 739.3,688.9 739.6,687.5 740.0,689.1 740.4,687.8 740.7,689.4 741.1,688.1 741.5,689.8 741.8,688.5 742.2,690.2 742.6,689.1 742.9,690.6 743.3,689.5 743.7,691.1 744.0,689.8 744.4,691.6 744.8,690.2 745.1,692.1 745.5,690.6 745.9,692.2 746.2,690.9 746.6,692.6 747.0,691.5 747.3,693.1 747.7,691.8 748.1,693.4 748.4,692.3 748.8,693.8 749.1,692.9 749.5,694.1 749.9,693.4 750.2,694.5 750.6,693.6 751.0,695.0 751.3,694.1 751.7,695.3 752.1,694.4 752.4,695.7 752.8,694.7 753.2,696.1 753.5,695.0 753.9,696.7 754.3,695.3 754.6,697.3 755.0,695.5 755.3,697.5 755.7,696.2 756.1,698.0 756.4,696.5 756.8,698.4 757.2,696.4 757.5,698.9 757.9,696.7 758.3,699.1 758.6,697.1 759.0,699.0 759.3,697.1 759.7,698.9 760.1,697.5 760.4,699.0 760.8,697.7 761.2,699.1 761.5,697.8 761.9,699.2 762.2,697.6 762.6,699.3 763.0,697.9 763.3,699.2 763.7,697.9 764.0,699.2 764.4,698.1 764.8,699.3 765.1,698.2 765.5,699.4 765.9,698.4 766.2,699.4 766.6,698.6 766.9,699.7 767.3,698.8 767.7,699.9 768.0,698.8 768.4,699.9 768.7,698.9 769.1,700.1 769.4,699.0 769.8,700.2 770.1,699.2 770.5,700.4 770.8,699.3 771.2,700.7 771.6,699.4 771.9,700.8 772.3,699.5 772.6,701.0 773.0,699.6 773.3,701.5 773.7,699.8 774.0,701.7 774.4,699.8 774.7,701.8 775.1,700.0 775.5,701.9 775.8,700.3 776.2,701.9 776.5,700.3 776.9,702.0 777.2,700.6 777.6,702.1 777.9,701.0 778.3,702.3 778.6,701.3 779.0,702.4 779.4,701.4 779.7,702.8 780.1,701.7 780.4,702.9 780.8,701.8 781.1,702.8 781.5,702.0 781.8,703.0 782.2,702.2 782.5,703.1 782.9,702.5 783.3,703.2 783.6,702.6 784.0,703.4 784.3,702.8 784.7,703.6 785.0,703.0 785.4,703.8 785.7,703.2 786.1,704.0 786.4,703.4 786.8,704.1 787.2,703.6 787.5,704.3 787.9,703.7 788.2,704.5 788.6,703.9 788.9,704.7 789.3,704.0 789.6,704.8 790.0,704.2 790.3,705.0 790.7,704.4 791.1,705.0 791.4,704.2 791.8,704.9 792.1,704.1 792.5,704.7 792.9,703.9 793.2,704.5 793.6,703.7 794.0,704.5 794.3,703.5 794.7,704.3 795.0,703.2 795.4,704.2 795.8,703.3 796.1,704.4 796.4,703.5 796.8,704.7 797.1,703.8 797.5,704.9 797.9,704.0 798.2,705.1 798.5,704.2 798.9,705.2 799.2,704.4 799.6,705.4 799.9,704.5 800.3,705.6 800.6,704.9 801.0,705.8 801.4,705.1 801.7,706.0 802.0,705.2 802.4,706.2 802.8,705.4 803.1,706.2 803.5,705.3 803.8,706.3 804.2,705.4 804.5,706.3 804.9,705.6 805.2,706.5 805.6,705.6 805.9,706.6 806.3,705.6 806.7,706.4 807.0,705.6 807.4,706.5 807.7,705.6 808.1,706.5 808.4,705.7 808.8,706.6 809.1,705.7 809.5,706.6 809.8,705.8 810.2,706.8 810.6,705.8 810.9,706.9 811.3,705.9 811.6,706.8 812.0,706.0 812.3,706.8 812.7,706.0 813.0,706.9 813.4,706.0 813.7,706.9 814.1,706.1 814.5,707.2 814.8,706.2 815.2,707.3 815.5,706.3 815.9,707.4 816.2,706.4 816.6,707.4 816.9,706.5 817.3,707.5 817.6,706.6 818.0,707.6 818.4,706.6 818.7,707.8 819.1,706.7 819.4,707.7 819.8,706.8 820.1,707.9 820.5,706.9 820.8,708.1 821.2,707.1 821.5,708.2 821.9,707.1 822.3,708.4 822.6,707.3 823.0,708.4 823.3,707.3 823.7,708.6 824.0,707.6 824.4,708.5 824.7,707.7 825.1,708.6 825.4,707.8 825.8,708.7 826.2,708.1 826.5,708.8 826.9,708.3 827.2,709.0 827.6,708.2 827.9,709.1 828.3,708.4 828.6,709.2 829.0,708.5 829.3,709.3 829.7,708.7 830.1,709.4 830.4,708.8 830.8,709.5 831.1,708.8 831.5,709.6 831.8,708.9 832.2,709.7 832.5,708.8 832.9,709.7 833.3,708.8 833.6,710.0 834.0,709.0 834.3,710.0 834.7,709.1 835.0,710.2 835.4,709.2 835.7,710.1 836.1,709.2 836.4,710.3 836.8,709.1 837.2,710.3 837.5,709.2 837.9,710.4 838.2,709.2 838.6,710.6 838.9,709.4 839.3,710.7 839.6,709.4 840.0,710.9 840.4,709.4 840.7,710.6 841.1,709.1 841.4,710.6 841.8,709.2 842.1,710.3 842.5,708.9 842.8,710.2 843.2,708.8 843.5,710.2 843.9,708.4 844.2,710.1 844.6,708.4 844.9,709.9 845.3,708.4 845.6,709.7 846.0,708.0 846.3,709.6 846.7,708.0 847.0,709.5 847.4,708.0 847.7,709.3 848.1,707.7 848.5,709.6 848.8,708.3 849.2,710.2 849.6,708.7 849.9,710.2 850.3,709.0 850.7,710.7 851.0,709.5 851.4,711.4 851.8,710.1 852.1,711.9 852.5,710.5 852.9,711.7 853.2,710.5 853.5,711.6 853.9,710.6 854.2,711.5 854.6,710.1 855.0,711.6 855.3,710.2 855.6,711.6 856.0,710.3 856.4,711.4 856.7,710.2 857.1,711.3 857.4,710.1 857.8,711.2 858.1,709.9 858.5,711.4 858.9,709.1 859.2,712.3 859.6,708.6 860.0,712.9 860.4,707.6 860.7,713.6 861.1,706.2 861.4,713.4 861.8,705.8 862.1,714.2 862.5,704.5 862.9,714.0 863.2,705.4 863.6,714.2 864.0,705.2 864.4,714.8 864.7,705.1 865.1,714.2 865.5,704.6 865.8,713.4 866.2,705.1 866.6,713.1 866.9,706.3 867.3,714.3 867.6,707.2 868.0,713.8 868.3,707.8 868.7,713.3 869.1,708.5 869.4,712.9 869.8,708.2 870.2,712.6 870.5,707.9 870.9,711.7 871.3,707.9 871.7,711.7 872.0,708.1 872.4,712.2 872.8,708.5 873.1,712.0 873.5,708.7 873.8,712.3 874.2,709.0 874.5,712.4 874.9,709.5 875.2,711.8 875.6,709.9 876.0,712.6 876.3,711.0 876.7,713.4 877.0,711.8 877.4,714.7 877.8,712.4 878.1,714.9 878.5,712.7 878.8,714.8 879.1,712.7 879.5,714.9 879.9,712.8 880.2,715.4 880.5,713.1 880.9,715.4 881.2,713.2 881.6,715.1 882.0,713.2 882.3,715.3 882.7,713.3 883.0,715.5 883.4,713.5 883.7,715.2 884.1,713.0 884.5,715.1 884.9,712.0 885.2,715.3 885.6,711.0 886.0,715.2 886.4,710.8 886.8,714.2 887.2,710.3 887.5,714.2 887.9,710.3 888.2,714.5 888.6,709.6 889.0,714.8 889.3,709.5 889.7,715.1 890.1,710.0 890.4,715.1 890.8,710.2 891.1,715.0 891.5,710.3 891.9,714.7 892.2,710.2 892.6,714.7 892.9,710.5 893.3,714.5 893.7,710.2 894.0,714.7 894.4,710.1 894.8,714.3 895.1,710.0 895.5,714.4 895.8,710.1 896.2,714.4 896.6,710.2 897.0,714.4 897.4,710.4 897.8,714.2 898.1,711.7 898.5,714.1 898.9,712.1 899.3,714.4 899.7,712.0 900.0,714.2 900.4,712.0 900.8,714.3 901.1,712.0 901.5,713.8 901.9,712.1 902.2,713.7 902.6,711.8 902.9,714.1 903.3,711.8 903.7,714.0 904.0,711.7 904.4,713.6 904.8,711.9 905.1,713.6 905.5,711.9 905.9,713.8 906.2,712.0 906.6,713.7 906.9,712.1 907.3,713.6 907.6,712.0 908.0,713.6 908.3,712.0 908.7,713.4 909.0,711.9 909.4,713.5 909.7,712.0 910.1,713.4 910.5,711.7 910.8,713.2 911.2,711.7 911.5,713.2 911.9,711.5 912.2,712.9 912.6,711.7 912.9,712.8 913.3,711.6 913.6,712.8 914.0,711.6 914.3,712.7 914.7,711.6 915.0,712.6 915.4,711.8 915.8,712.5 916.1,711.7 916.5,712.4 916.8,711.6 917.2,712.4 917.5,711.7 917.9,712.3 918.2,711.6 918.6,712.3 918.9,711.6 919.3,712.3 919.6,711.6 925.4,711.4 926.0,710.5 926.6,711.4 927.3,710.6 927.8,711.6 928.5,710.7 929.1,711.5 929.7,710.6 930.3,711.8 931.0,710.7 931.5,711.9 932.2,710.9 932.7,711.9 933.4,711.1 934.0,711.8 934.6,711.2 935.2,712.1 935.9,710.9 936.4,712.0 937.1,711.3 937.7,712.0 938.3,711.4 938.9,712.3 939.6,711.2 940.1,712.1 940.8,711.5 941.3,712.5 942.0,711.6 942.7,712.6 943.2,711.5 943.9,712.3 944.4,711.5 945.0,712.0 945.5,711.2 946.2,711.9 946.7,710.9 947.4,711.6 947.9,710.8 948.7,711.8 949.2,710.8 949.8,711.4 950.4,710.7 951.0,711.2 951.5,710.3 952.3,711.3 952.8,710.5 953.5,711.0 953.9,710.0 954.6,710.8 955.2,710.2 955.9,710.7 956.4,709.9 957.1,710.8 957.6,709.7 958.1,710.7 958.9,709.4 959.4,710.6 960.1,710.0 960.7,710.9 961.4,710.1 961.9,710.9 962.6,710.3 963.2,710.9 963.9,710.3 964.5,711.0 965.2,710.1 965.7,711.4 966.5,710.3 967.0,711.7 967.7,710.5 968.5,711.7 968.8,710.6 969.7,711.4 969.9,710.1 970.8,710.7 971.2,709.8 972.0,710.5 972.4,709.5 973.3,710.3 973.5,709.0 974.4,709.8 974.7,708.6 975.7,709.6 976.0,708.6 976.8,708.9 977.2,708.2 978.0,708.6 978.5,707.4 979.1,708.4 979.7,707.6 980.3,708.5 980.9,707.5 981.5,708.4 982.1,707.4 982.7,708.4 983.3,707.3 984.0,708.6 984.5,707.7 985.2,708.4 985.8,707.6 986.4,708.5 987.0,707.6 987.6,708.2 988.2,707.2 988.8,708.3 989.5,707.3 989.9,708.3 990.7,707.6 991.2,708.4 992.0,707.8 992.4,708.7 993.2,707.9 993.7,708.8 994.4,708.4 994.9,709.1 995.6,708.9" fill="none" stroke="#636efa" stroke-width="2" stroke-linejoin="round"/>
<g font-family="Liberation Sans" font-size="25" fill="#000" text-anchor="end">
<text transform="translate(100.8,397) scale(1.1,1)">50</text>
<text transform="translate(100.8,466) scale(1.1,1)">40</text>
<text transform="translate(100.8,534) scale(1.1,1)">30</text>
<text transform="translate(100.8,603) scale(1.1,1)">20</text>
<text transform="translate(100.8,671) scale(1.1,1)">10</text>
<text transform="translate(101.2,739) scale(1.1,1)">0</text>
</g>
<text transform="translate(43.9,741.5) rotate(-90) scale(1.235,1)" font-family="Liberation Sans" font-size="30" fill="#000">Linear Acceleration (g)</text>
<line x1="1019.2" y1="386" x2="1057.1" y2="386" stroke="#636efa" stroke-width="2.5"/>
<rect x="1019.2" y="419.9" width="37.9" height="7.5" fill="#808080"/>
<text transform="translate(1064.6,395.4) scale(1.1,1)" font-family="Liberation Sans" font-size="26" letter-spacing="1.35" fill="#000">resultant</text>
<text transform="translate(1065,431.3) scale(1.05,1)" font-family="Liberation Sans" font-size="26" letter-spacing="1.15" fill="#000">HIC Window</text>
</g>
</svg>

</body></html>
